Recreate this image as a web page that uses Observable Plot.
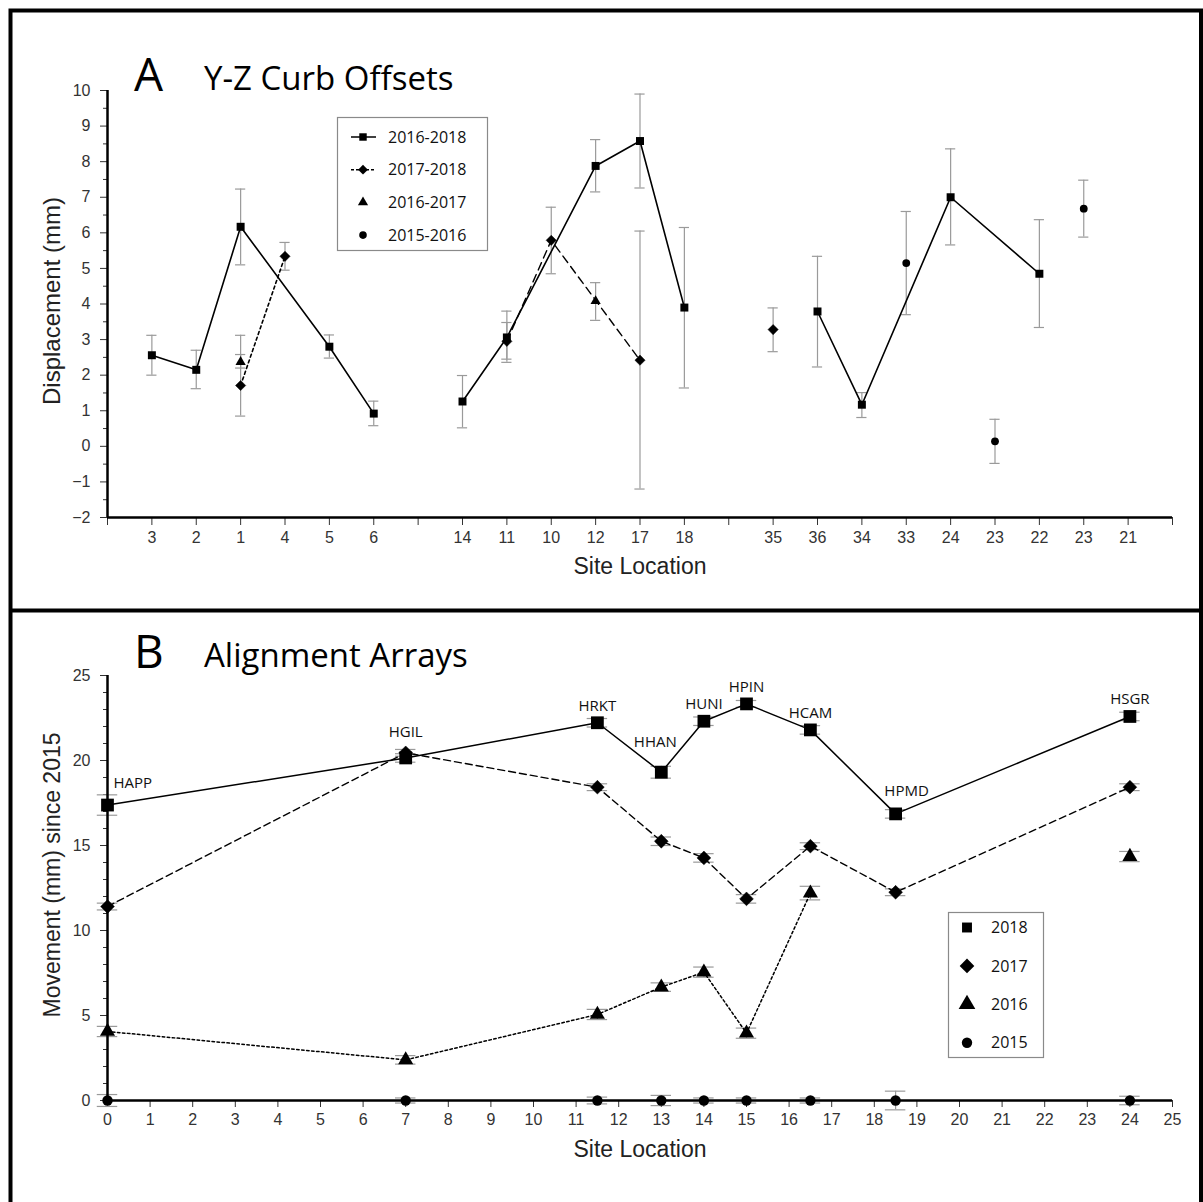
<!DOCTYPE html>
<html>
<head>
<meta charset="utf-8">
<script src="https://cdn.jsdelivr.net/npm/d3@7"></script>
<script src="https://cdn.jsdelivr.net/npm/@observablehq/plot@0.6"></script>
<style>
  html, body { margin: 0; padding: 0; background: #fff; }
  #wrap { position: relative; width: 1203px; height: 1202px; overflow: hidden; background: #fff; }
  #wrap > svg { position: absolute; left: 0; }
</style>
</head>
<body>
<div id="wrap"></div>
<script>
// ---------------- Panel A data: Y-Z curb offsets ----------------
const siteLabelsA = ["", "3", "2", "1", "4", "5", "6", "", "14", "11", "10", "12", "17", "18", "",
                     "35", "36", "34", "33", "24", "23", "22", "23", "21", ""];
const seriesNamesA = ["2016-2018", "2017-2018", "2016-2017", "2015-2016"];

const a2016_2018 = [
  {pos: 1, v: 2.56, lo: 2.00, hi: 3.12, seg: 1},
  {pos: 2, v: 2.15, lo: 1.62, hi: 2.70, seg: 1},
  {pos: 3, v: 6.17, lo: 5.10, hi: 7.23, seg: 1},
  {pos: 5, v: 2.80, lo: 2.48, hi: 3.13, seg: 1},
  {pos: 6, v: 0.92, lo: 0.58, hi: 1.27, seg: 1},
  {pos: 8, v: 1.26, lo: 0.52, hi: 1.99, seg: 2},
  {pos: 9, v: 3.06, lo: 2.36, hi: 3.80, seg: 2},
  {pos: 11, v: 7.88, lo: 7.15, hi: 8.62, seg: 2},
  {pos: 12, v: 8.58, lo: 7.26, hi: 9.90, seg: 2},
  {pos: 13, v: 3.90, lo: 1.64, hi: 6.15, seg: 2},
  {pos: 16, v: 3.79, lo: 2.23, hi: 5.34, seg: 3},
  {pos: 17, v: 1.17, lo: 0.81, hi: 1.51, seg: 3},
  {pos: 19, v: 7.00, lo: 5.66, hi: 8.36, seg: 3},
  {pos: 21, v: 4.85, lo: 3.34, hi: 6.37, seg: 3}
];
const a2017_2018 = [
  {pos: 3, v: 1.71, lo: 0.85, hi: 3.12, seg: 1},
  {pos: 4, v: 5.34, lo: 4.95, hi: 5.73, seg: 1},
  {pos: 9, v: 2.95, lo: 2.45, hi: 3.48, seg: 2},
  {pos: 10, v: 5.79, lo: 4.85, hi: 6.72, seg: 2},
  {pos: 12, v: 2.42, lo: -1.20, hi: 6.05, seg: 2},
  {pos: 15, v: 3.28, lo: 2.66, hi: 3.89, seg: 3}
];
const a2016_2017 = [
  {pos: 3, v: 2.37, lo: 2.20, hi: 2.58},
  {pos: 11, v: 4.08, lo: 3.54, hi: 4.60}
];
const a2015_2016 = [
  {pos: 18, v: 5.15, lo: 3.70, hi: 6.60},
  {pos: 20, v: 0.14, lo: -0.48, hi: 0.76},
  {pos: 22, v: 6.68, lo: 5.88, hi: 7.48}
];

// ---------------- Panel B data: alignment arrays ----------------
const sitesB = [0, 7, 11.5, 13, 14, 15, 16.5, 18.5, 24];
const namesB = ["HAPP", "HGIL", "HRKT", "HHAN", "HUNI", "HPIN", "HCAM", "HPMD", "HSGR"];
const years = ["2018", "2017", "2016", "2015"];
const mv2018 = [17.38, 20.15, 22.22, 19.31, 22.31, 23.33, 21.80, 16.86, 22.59];
const er2018 = [0.60, 0.25, 0.25, 0.35, 0.25, 0.20, 0.25, 0.25, 0.25];
const mv2017 = [11.41, 20.45, 18.43, 15.25, 14.27, 11.86, 14.96, 12.25, 18.43];
const er2017 = [0.20, 0.20, 0.20, 0.25, 0.25, 0.25, 0.20, 0.20, 0.20];
const sites2016 = [0, 7, 11.5, 13, 14, 15, 16.5, 24];
const mv2016 = [4.06, 2.39, 5.06, 6.67, 7.55, 3.96, 12.20, 14.35];
const er2016 = [0.30, 0.25, 0.30, 0.25, 0.30, 0.30, 0.40, 0.30];
const mv2015 = [0, 0, 0, 0, 0, 0, 0, 0, 0];
const er2015 = [0.35, 0.15, 0.20, 0.30, 0.15, 0.15, 0.15, 0.55, 0.25];

// ---------------- build tables ----------------
const toRows = (xs, vs, es, extra = () => ({})) =>
  xs.map((x, i) => ({pos: x, v: vs[i], lo: vs[i] - es[i], hi: vs[i] + es[i], ...extra(i)}));
const b2018 = toRows(sitesB, mv2018, er2018, i => ({name: namesB[i]}));
const b2017 = toRows(sitesB, mv2017, er2017);
const b2016 = toRows(sites2016, mv2016, er2016, i => ({seg: sites2016[i] <= 16.5 ? 1 : 2}));
const b2015 = toRows(sitesB, mv2015, er2015);

const tickFont = "'Liberation Sans', Arial, Helvetica, sans-serif";
const labelFont = "'Open Sans', 'Noto Sans', sans-serif";
const errColor = "#9a9a9a";

function errorMarks(data, half) {
  return [
    Plot.ruleX(data, {x: "pos", y1: "lo", y2: "hi", stroke: errColor, strokeWidth: 1.2}),
    Plot.ruleY(data, {y: "hi", x1: d => d.pos - half, x2: d => d.pos + half, stroke: errColor, strokeWidth: 1.2}),
    Plot.ruleY(data, {y: "lo", x1: d => d.pos - half, x2: d => d.pos + half, stroke: errColor, strokeWidth: 1.2})
  ];
}

const wrap = document.getElementById("wrap");

// ---------------- Panel A plot ----------------
const plotA = Plot.plot({
  width: 1203, height: 600,
  marginLeft: 107, marginRight: 31, marginTop: 90, marginBottom: 83,
  x: {domain: [0, 24]},
  y: {domain: [-2, 10]},
  style: {fontFamily: tickFont, fontSize: "16px", color: "#333", background: "transparent", overflow: "visible"},
  marks: [
    Plot.axisY({ticks: d3.range(-2, 11), tickSize: 7, tickPadding: 10, label: null, fontSize: 16}),
    Plot.axisY({ticks: d3.range(-1.5, 10, 1), tickSize: 4, tickFormat: () => "", label: null}),
    Plot.axisX({ticks: d3.range(0, 25), tickSize: 8, tickPadding: 6, tickFormat: i => siteLabelsA[i] || "", label: null, fontSize: 16}),
    ...errorMarks(a2016_2018, 0.115),
    ...errorMarks(a2017_2018, 0.115),
    ...errorMarks(a2016_2017, 0.115),
    ...errorMarks(a2015_2016, 0.115),
    Plot.line(a2016_2018, {x: "pos", y: "v", z: "seg", stroke: "black", strokeWidth: 1.6}),
    Plot.line(a2017_2018.filter(d => d.seg === 1), {x: "pos", y: "v", stroke: "black", strokeWidth: 1.6, strokeDasharray: "3,3"}),
    Plot.line(a2017_2018.filter(d => d.seg === 2), {x: "pos", y: "v", stroke: "black", strokeWidth: 1.4, strokeDasharray: "8,5"}),
    Plot.dot(a2016_2018, {x: "pos", y: "v", symbol: "square", r: 4.5, fill: "black"}),
    Plot.dot(a2017_2018, {x: "pos", y: "v", symbol: "diamond2", r: 4.6, fill: "black", stroke: "black", strokeWidth: 0.5}),
    Plot.dot(a2016_2017, {x: "pos", y: "v", symbol: "triangle", r: 3.8, fill: "black"}),
    Plot.dot(a2015_2016, {x: "pos", y: "v", symbol: "circle", r: 3.9, fill: "black"}),
    Plot.ruleX([0], {stroke: "black", strokeWidth: 2.5}),
    Plot.ruleY([-2], {stroke: "black", strokeWidth: 2.5}),
    Plot.text(["Displacement (mm)"], {text: d => d, frameAnchor: "left", textAnchor: "middle", rotate: -90, dx: -55, dy: -3, fontSize: 24, fill: "#222"}),
    Plot.text(["Site Location"], {text: d => d, frameAnchor: "bottom", textAnchor: "middle", dy: 56, fontSize: 23, fill: "#222"})
  ]
});
plotA.style.top = "0px";
wrap.appendChild(plotA);

// ---------------- Panel B plot ----------------
const labelDy = {HAPP: -22, HGIL: -26, HHAN: -30, HPMD: -23};
const labelDx = {HAPP: 6, HHAN: -6, HPMD: 11};
const labelMarks = b2018.map(d => Plot.text([d], {
  x: "pos", y: "v", text: "name", fontFamily: labelFont, fontSize: 15, fill: "#111",
  textAnchor: d.name === "HAPP" ? "start" : "middle",
  dx: labelDx[d.name] || 0,
  dy: labelDy[d.name] ?? -17
}));
const plotB = Plot.plot({
  width: 1203, height: 602,
  marginLeft: 107, marginRight: 31, marginTop: 75, marginBottom: 102,
  x: {domain: [0, 25]},
  y: {domain: [0, 25]},
  style: {fontFamily: tickFont, fontSize: "16px", color: "#333", background: "transparent", overflow: "visible"},
  marks: [
    Plot.axisY({ticks: d3.range(0, 26, 5), tickSize: 7, tickPadding: 10, label: null, fontSize: 16}),
    Plot.axisY({ticks: d3.range(0, 26, 1).filter(v => v % 5), tickSize: 4, tickFormat: () => "", label: null}),
    Plot.axisX({ticks: d3.range(0, 26), tickSize: 7, tickPadding: 6, label: null, fontSize: 16}),
    ...errorMarks(b2018, 0.24),
    ...errorMarks(b2017, 0.24),
    ...errorMarks(b2016, 0.24),
    ...errorMarks(b2015, 0.24),
    Plot.line(b2018, {x: "pos", y: "v", stroke: "black", strokeWidth: 1.5}),
    Plot.line(b2017, {x: "pos", y: "v", stroke: "black", strokeWidth: 1.4, strokeDasharray: "7,4"}),
    Plot.line(b2016.filter(d => d.seg === 1), {x: "pos", y: "v", stroke: "black", strokeWidth: 1.5, strokeDasharray: "2.5,2.5"}),
    Plot.ruleX([0], {stroke: "black", strokeWidth: 2.5}),
    Plot.ruleY([0], {stroke: "black", strokeWidth: 2.5}),
    Plot.dot(b2018, {x: "pos", y: "v", symbol: "square", r: 7.2, fill: "black"}),
    Plot.dot(b2017, {x: "pos", y: "v", symbol: "diamond2", r: 6.2, fill: "black", stroke: "black", strokeWidth: 0.5}),
    Plot.dot(b2016, {x: "pos", y: "v", symbol: "triangle", r: 5.6, fill: "black"}),
    Plot.dot(b2015, {x: "pos", y: "v", symbol: "circle", r: 5.2, fill: "black"}),
    ...labelMarks,
    Plot.text(["Movement (mm) since 2015"], {text: d => d, frameAnchor: "left", textAnchor: "middle", rotate: -90, dx: -55, dy: -13, fontSize: 23, fill: "#222"}),
    Plot.text(["Site Location"], {text: d => d, frameAnchor: "bottom", textAnchor: "middle", dy: 56, fontSize: 23, fill: "#222"})
  ]
});
plotB.style.top = "600px";
wrap.appendChild(plotB);

// ---------------- overlay: frame, titles, legends ----------------
const ov = d3.select(wrap).append("svg")
  .attr("width", 1203).attr("height", 1202)
  .style("position", "absolute").style("left", "0px").style("top", "0px")
  .style("pointer-events", "none");

// frame
ov.append("path")
  .attr("d", "M10.5,1202 V10.5 H1201 V1202 M10.5,610.5 H1201")
  .attr("fill", "none").attr("stroke", "black").attr("stroke-width", 4);

// titles
const titles = [
  {letter: "A", text: "Y-Z Curb Offsets", y: 91},
  {letter: "B", text: "Alignment Arrays", y: 668}
];
titles.forEach(t => {
  ov.append("text").attr("x", 134).attr("y", t.y).attr("font-family", labelFont)
    .attr("font-size", 46).attr("fill", "black").text(t.letter);
  ov.append("text").attr("x", 204).attr("y", t.y - 1).attr("font-family", labelFont)
    .attr("font-size", 33).attr("fill", "black").text(t.text);
});

function sym(type, r) {
  const map = {square: d3.symbolSquare, diamond2: d3.symbolDiamond2, triangle: d3.symbolTriangle, circle: d3.symbolCircle};
  return d3.symbol(map[type], Math.PI * r * r)();
}

// legend A
const legA = ov.append("g");
legA.append("rect").attr("x", 337.5).attr("y", 117.5).attr("width", 150).attr("height", 133)
  .attr("fill", "white").attr("stroke", "#8a8a8a").attr("stroke-width", 1.2);
const symA = ["square", "diamond2", "triangle", "circle"];
const rA = [4.2, 4.4, 3.8, 3.8];
const dashA = [null, "3,2", "none", "none"];
seriesNamesA.forEach((name, i) => {
  const y = 137 + i * 32.7;
  if (i < 2) {
    legA.append("line").attr("x1", 351).attr("x2", 376).attr("y1", y).attr("y2", y)
      .attr("stroke", "black").attr("stroke-width", 1.5).attr("stroke-dasharray", dashA[i]);
  }
  legA.append("path").attr("d", sym(symA[i], rA[i])).attr("transform", `translate(363,${y})`).attr("fill", "black");
  legA.append("text").attr("x", 388).attr("y", y).attr("dy", "0.35em").attr("font-family", labelFont)
    .attr("font-size", 16).attr("fill", "#111").text(name);
});

// legend B
const legB = ov.append("g");
legB.append("rect").attr("x", 948.5).attr("y", 912.5).attr("width", 95).attr("height", 145)
  .attr("fill", "white").attr("stroke", "#8a8a8a").attr("stroke-width", 1.2);
const rB = [5.6, 6.6, 6.2, 5.2];
years.forEach((yr, i) => {
  const y = 927.5 + i * 38.4;
  legB.append("path").attr("d", sym(symA[i], rB[i])).attr("transform", `translate(967,${y})`).attr("fill", "black");
  legB.append("text").attr("x", 991).attr("y", y).attr("dy", "0.35em").attr("font-family", labelFont)
    .attr("font-size", 16).attr("fill", "#111").text(yr);
});
</script>
</body>
</html>
